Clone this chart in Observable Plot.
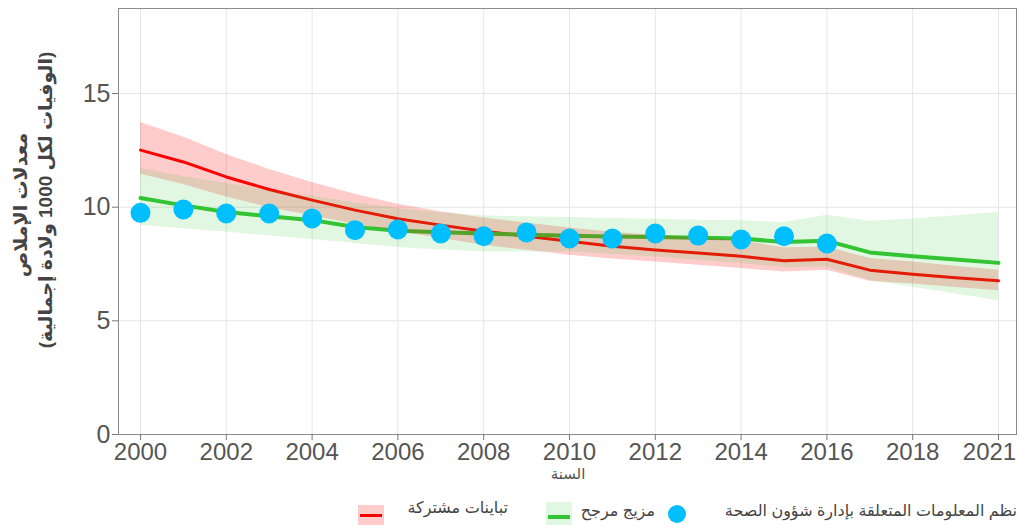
<!DOCTYPE html>
<html><head><meta charset="utf-8">
<script src="https://cdn.jsdelivr.net/npm/d3@7"></script>
<script src="https://cdn.jsdelivr.net/npm/@observablehq/plot@0.6"></script>
<style>
body{margin:0;background:#fff;}
#wrap{position:relative;width:1019px;height:525px;overflow:hidden;font-family:"Liberation Sans","DejaVu Sans",sans-serif;}
#wrap svg{overflow:visible;}
.abs{position:absolute;white-space:nowrap;}
.ytitle{font-weight:bold;font-size:19px;color:#444;transform:translate(-50%,-50%) rotate(-90deg);}
.leg{font-size:16px;color:#444;direction:rtl;transform:translateY(-50%);}
</style></head>
<body><div id="wrap"></div>
<script>
// Data
const dotYears = [2000,2001,2002,2003,2004,2005,2006,2007,2008,2009,2010,2011,2012,2013,2014,2015,2016];
const hmisValues = [9.75,9.90,9.72,9.72,9.50,8.99,9.02,8.84,8.72,8.89,8.62,8.62,8.84,8.75,8.58,8.72,8.40];

const lineYears = [2000,2001,2002,2003,2004,2005,2006,2007,2008,2009,2010,2011,2012,2013,2014,2015,2016,2017,2018,2019,2020];
const covariateLine  = [12.51,11.99,11.33,10.78,10.31,9.87,9.49,9.21,8.94,8.72,8.50,8.28,8.12,7.98,7.84,7.64,7.71,7.23,7.05,6.90,6.76];
const covariateUpper = [13.73,13.09,12.32,11.66,11.09,10.57,10.13,9.80,9.52,9.30,9.08,8.90,8.77,8.65,8.52,8.22,8.25,7.74,7.59,7.40,7.23];
const covariateLower = [11.45,11.00,10.45,9.98,9.62,9.25,8.93,8.62,8.33,8.10,7.89,7.72,7.59,7.44,7.30,7.15,7.23,6.74,6.62,6.47,6.32];
const blendLine  = [10.40,10.08,9.79,9.60,9.43,9.13,8.96,8.90,8.84,8.79,8.74,8.71,8.69,8.66,8.62,8.47,8.52,8.01,7.84,7.70,7.55];
const blendUpper = [11.70,11.35,11.04,10.75,10.48,10.20,9.94,9.75,9.62,9.58,9.55,9.50,9.47,9.43,9.40,9.33,9.65,9.38,9.48,9.62,9.77];
const blendLower = [9.21,9.05,8.91,8.74,8.58,8.40,8.23,8.12,8.03,8.03,8.03,7.92,7.81,7.66,7.52,7.35,7.37,6.78,6.48,6.18,5.88];

const xTickValues = [2000,2002,2004,2006,2008,2010,2012,2014,2016,2018,2020];
const xTickLabels = ["2000","2002","2004","2006","2008","2010","2012","2014","2016","2018","2021"];
const yTickValues = [0,5,10,15];

const seriesNames = ["نظم المعلومات المتعلقة بإدارة شؤون الصحة","مزيج مرجح","تباينات مشتركة"];
const yTitle1 = "معدلات الإملاص";
const yTitle2 = "(الوفيات لكل 1000 ولادة إجمالية)";
const xTitle = "السنة";

// Tables
const rows = lineYears.map((year,i)=>({year, cov:covariateLine[i], covHi:covariateUpper[i], covLo:covariateLower[i], bl:blendLine[i], blHi:blendUpper[i], blLo:blendLower[i]}));
const dots = dotYears.map((year,i)=>({year, v:hmisValues[i]}));
const labelOf = new Map(xTickValues.map((v,i)=>[v,xTickLabels[i]]));

const RED="#ff0000", GREEN="#33c433", CYAN="#00bfff";
const tickFont = "'Liberation Sans Narrow','Liberation Sans',sans-serif";

const chart = Plot.plot({
  width:1019, height:490,
  marginLeft:118, marginRight:3, marginTop:8, marginBottom:56,
  x:{domain:[1999.487,2020.42]},
  y:{domain:[0,18.74]},
  style:{background:"white", fontFamily:tickFont, overflow:"visible"},
  marks:[
    Plot.gridX(xTickValues,{stroke:"#e6e6e6", strokeOpacity:1}),
    Plot.gridY([5,10,15],{stroke:"#e6e6e6", strokeOpacity:1}),
    Plot.line(rows,{x:"year", y:"cov", stroke:RED, strokeWidth:3}),
    Plot.line(rows,{x:"year", y:"bl", stroke:GREEN, strokeWidth:4}),
    Plot.areaY(rows,{x:"year", y1:"covLo", y2:"covHi", fill:RED, fillOpacity:0.2}),
    Plot.areaY(rows,{x:"year", y1:"blLo", y2:"blHi", fill:GREEN, fillOpacity:0.14}),
    Plot.dot(dots,{x:"year", y:"v", r:10, fill:CYAN, stroke:null}),
    Plot.frame({stroke:"#8c8c8c"}),
    Plot.axisX(xTickValues,{tickFormat:d=>labelOf.get(d), tickSize:6, tickPadding:2, fontSize:24, label:null, stroke:"#777", fill:"#555", fontFamily:tickFont}),
    Plot.axisY(yTickValues,{tickSize:6, tickPadding:2, fontSize:25, label:null, stroke:"#777", fill:"#555", fontFamily:tickFont})
  ]
});
const wrap = document.getElementById("wrap");
wrap.appendChild(chart);
// keep the last x tick label inside the window, as in the reference
const xLabels = d3.select(chart).selectAll('[aria-label="x-axis tick label"] text').nodes();
if (xLabels.length) d3.select(xLabels[xLabels.length-1]).attr("dx", -9);

function add(html, cls, css){const d=document.createElement("div");d.className="abs "+(cls||"");d.textContent=html;Object.assign(d.style,css);wrap.appendChild(d);return d;}
add(yTitle1,"ytitle",{left:"20px",top:"205px"});
add(yTitle2,"ytitle",{left:"45px",top:"200px"});
add(xTitle,"",{left:"568px",top:"474px",transform:"translate(-50%,-50%)",fontSize:"15px",color:"#555"});

// legend
add(seriesNames[0],"leg",{right:(1019-1017)+"px",top:"510px"});
add("","",{left:"668px",top:"505px",width:"18px",height:"18px",borderRadius:"50%",background:CYAN});
add(seriesNames[1],"leg",{right:(1019-655)+"px",top:"510px"});
add("","",{left:"546px",top:"502px",width:"26px",height:"23px",background:"rgba(51,196,51,0.14)"});
add("","",{left:"548px",top:"515px",width:"22px",height:"4px",background:GREEN});
add(seriesNames[2],"leg",{right:(1019-508)+"px",top:"507px"});
add("","",{left:"358px",top:"505px",width:"26px",height:"21px",background:"rgba(255,0,0,0.2)"});
add("","",{left:"360px",top:"514px",width:"22px",height:"3px",background:RED});
</script></body></html>
